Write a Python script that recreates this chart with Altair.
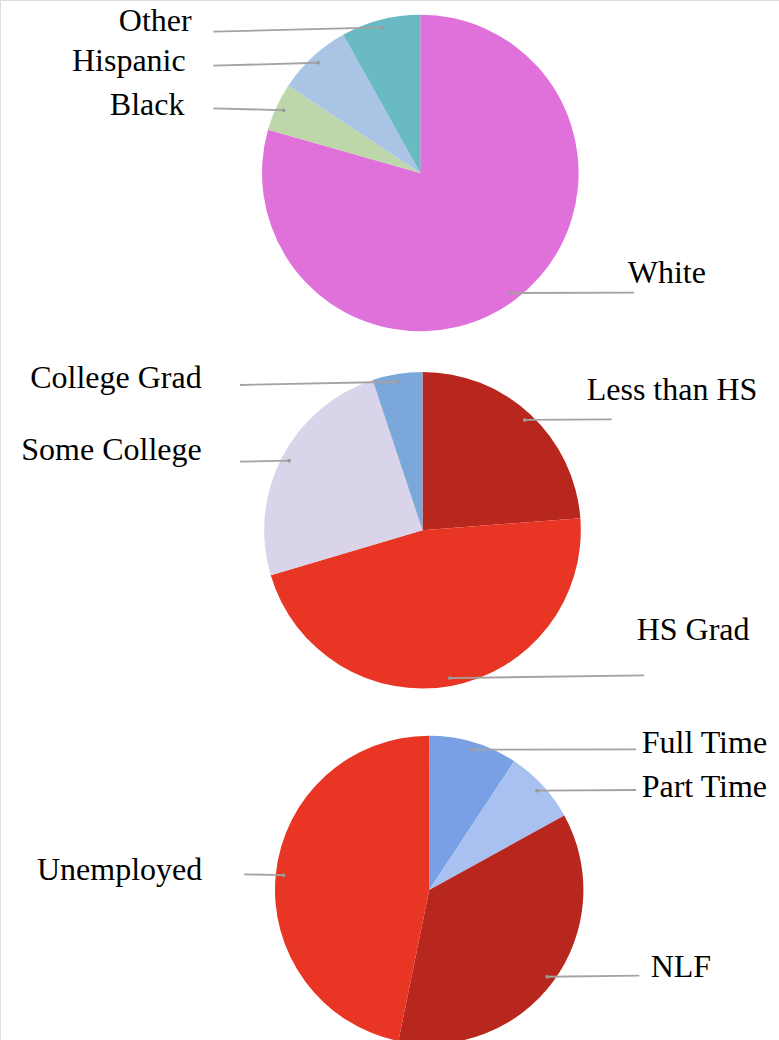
import math
import altair as alt
import pandas as pd

# ---------------- data ----------------
race_labels = ["White", "Black", "Hispanic", "Other"]
race_values = [79.4, 4.9, 7.6, 8.1]

edu_labels = ["Less than HS", "HS Grad", "Some College", "College Grad"]
edu_values = [23.8, 46.6, 24.5, 5.1]

emp_labels = ["Full Time", "Part Time", "NLF", "Unemployed"]
emp_values = [9.3, 7.7, 36.2, 46.8]

# ---------------- styles / layout ----------------
colors = {
    "White": "#E070DA", "Black": "#BDD7AA", "Hispanic": "#A9C4E5", "Other": "#6ABAC4",
    "Less than HS": "#B8271D", "HS Grad": "#E83524", "Some College": "#D9D4E9",
    "College Grad": "#7BA7DA",
    "Full Time": "#79A0E4", "Part Time": "#A9C1F0", "NLF": "#B8271D", "Unemployed": "#E83524",
}

W, H = 779, 1040
pies = [
    {"labels": race_labels, "values": race_values, "cx": 420.3, "cy": 173.0, "r": 158.3},
    {"labels": edu_labels, "values": edu_values, "cx": 422.5, "cy": 530.2, "r": 158.3},
    {"labels": emp_labels, "values": emp_values, "cx": 429.2, "cy": 889.9, "r": 154.2},
]

# label: (text align, text x, text baseline y, line end x, line end y)
label_layout = {
    "Other": ("right", 191.7, 30.5, 213.3, 31.7),
    "Hispanic": ("right", 185.7, 71.0, 213.3, 65.7),
    "Black": ("right", 184.5, 115.0, 213.3, 108.3),
    "White": ("left", 627.7, 283.3, 634.0, 292.7),
    "College Grad": ("right", 201.7, 388.3, 240.0, 385.0),
    "Some College": ("right", 201.7, 460.0, 240.0, 461.7),
    "Less than HS": ("left", 586.7, 400.0, 611.7, 419.3),
    "HS Grad": ("left", 636.7, 640.0, 644.3, 675.3),
    "Full Time": ("left", 641.7, 753.3, 636.0, 749.3),
    "Part Time": ("left", 641.7, 796.7, 636.0, 790.0),
    "Unemployed": ("right", 202.3, 880.0, 244.3, 874.3),
    "NLF": ("left", 650.7, 976.7, 639.3, 975.7),
}

FONT = "Liberation Serif"
FONT_SIZE = 32
LINE_COLOR = "#A3A3A3"
ANCHOR_FRAC = 0.95

# ---------------- build tables ----------------
rows = []
for k, p in enumerate(pies):
    total = sum(p["values"])
    cum = 0.0
    for i, (lab, val) in enumerate(zip(p["labels"], p["values"])):
        mid = (cum + val / 2) / total * 2 * math.pi
        cum += val
        ra = p["r"] * ANCHOR_FRAC
        al, tx, ty, lx, ly = label_layout[lab]
        rows.append({
            "pie": k, "category": lab, "value": val, "order": i,
            "ax": p["cx"] + ra * math.sin(mid),
            "ay": p["cy"] - ra * math.cos(mid),
            "tx": tx, "ty": ty, "lx": lx, "ly": ly, "align": al,
        })
df = pd.DataFrame(rows)

xs = alt.Scale(domain=[0, W], nice=False, zero=False)
ys = alt.Scale(domain=[0, H], nice=False, zero=False, reverse=True)
color = alt.Color(
    "category:N",
    scale=alt.Scale(domain=list(colors.keys()), range=list(colors.values())),
    legend=None,
)

layers = []
for k, p in enumerate(pies):
    arc = (
        alt.Chart(df[df.pie == k])
        .mark_arc(outerRadius=p["r"])
        .encode(
            x=alt.value(p["cx"]),
            y=alt.value(p["cy"]),
            theta=alt.Theta("value:Q", stack=True),
            order=alt.Order("order:Q"),
            color=color,
        )
    )
    layers.append(arc)

base = alt.Chart(df)
lines = base.mark_rule(color=LINE_COLOR, strokeWidth=1.8).encode(
    x=alt.X("ax:Q", scale=xs, axis=None),
    y=alt.Y("ay:Q", scale=ys, axis=None),
    x2="lx:Q",
    y2="ly:Q",
)
dots = base.mark_circle(color="#999999", opacity=1, size=14).encode(
    x=alt.X("ax:Q", scale=xs, axis=None),
    y=alt.Y("ay:Q", scale=ys, axis=None),
)
text_r = base.transform_filter(alt.datum.align == "right").mark_text(
    align="right", baseline="alphabetic", font=FONT, fontSize=FONT_SIZE, color="#000000"
).encode(
    x=alt.X("tx:Q", scale=xs, axis=None),
    y=alt.Y("ty:Q", scale=ys, axis=None),
    text="category:N",
)
text_l = base.transform_filter(alt.datum.align == "left").mark_text(
    align="left", baseline="alphabetic", font=FONT, fontSize=FONT_SIZE, color="#000000"
).encode(
    x=alt.X("tx:Q", scale=xs, axis=None),
    y=alt.Y("ty:Q", scale=ys, axis=None),
    text="category:N",
)

chart = (
    alt.layer(*layers, lines, dots, text_r, text_l)
    .resolve_scale(theta="independent")
    .properties(width=W, height=H, padding=0, autosize=alt.AutoSizeParams(type="none"))
    .configure_view(stroke=None)
    .configure(background="white")
)

chart.save("out.html", embed_options={"renderer": "svg", "actions": False})
